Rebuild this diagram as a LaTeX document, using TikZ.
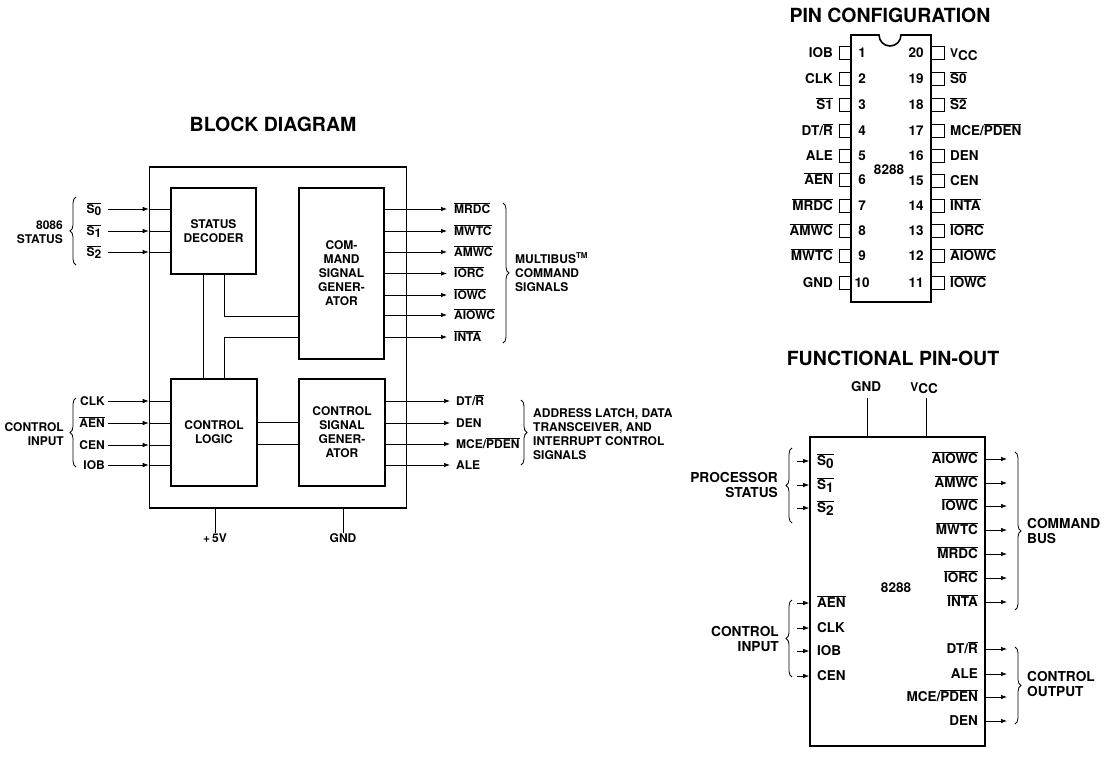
\documentclass[tikz,border=0pt]{standalone}
\usepackage{fontspec}
\setmainfont{TeX Gyre Heros}
\usetikzlibrary{arrows.meta}
\usetikzlibrary{decorations.pathreplacing}
\newcommand{\ovl}[1]{$\overline{\hbox{#1}}$}
\newcommand{\dn}[1]{\raisebox{-0.35ex}{#1}}
\tikzset{
    blockbox/.style={draw,line width=1.6pt,inner sep=0pt,align=center,font=\fontsize{12}{14}\selectfont\bfseries},
    sig/.style={line width=0.7pt,-{Latex[length=6pt,width=4.5pt]}},
    wire/.style={line width=0.7pt},
    lab/.style={inner sep=0pt,font=\fontsize{12}{14}\selectfont\bfseries},
    pinlab/.style={inner sep=0pt,font=\fontsize{13.5}{16}\selectfont\bfseries},
    note/.style={inner sep=0pt,align=left,font=\fontsize{12}{14}\selectfont\bfseries},
    bignote/.style={inner sep=0pt,font=\fontsize{13.7}{15.5}\selectfont\bfseries},
    ttl/.style={inner sep=0pt,font=\fontsize{19.5}{22}\selectfont\bfseries},
    brc/.style={decorate,decoration={brace,amplitude=6pt},line width=0.8pt},
}
\begin{document}
\begin{tikzpicture}[x=1pt,y=-1pt]
    \useasboundingbox (0,0) rectangle (1108,771);
    \node[ttl] (blocktitle) at (273,124) {BLOCK DIAGRAM};
    \node[ttl] (pintitle) at (890,15) {PIN CONFIGURATION};
    \node[ttl] (functitle) at (893,358) {FUNCTIONAL PIN-OUT};

    \node[blockbox,minimum width=257pt,minimum height=341pt] (big) at (278,337.5) {};
    \node[blockbox,fill=white,minimum width=85pt,minimum height=86pt] (dec) at (213.5,231) {STATUS\\DECODER};
    \node[blockbox,fill=white,minimum width=85pt,minimum height=171pt] (cmd) at (341.5,273.5) {COM-\\MAND\\SIGNAL\\GENER-\\ATOR};
    \node[blockbox,fill=white,minimum width=86pt,minimum height=107pt] (ctl) at (214,432.5) {CONTROL\\LOGIC};
    \node[blockbox,fill=white,minimum width=86pt,minimum height=107pt] (gen) at (342,432.5) {CONTROL\\SIGNAL\\GENER-\\ATOR};

    \coordinate (u1) at (203,274);
    \coordinate (u2) at (224,274);
    \coordinate (u3) at (224,379);
    \draw[wire] (u1) -- (u1 |- ctl.north);
    \draw[wire] (u2) -- (224,316) -- (224,316 -| cmd.west);
    \draw[wire] (u3) -- (224,337) -- (224,337 -| cmd.west);

    \foreach \n/\y/\lab in {s0/209/\ovl{S\dn{0}}, s1/231/\ovl{S\dn{1}}, s2/252/\ovl{S\dn{2}}} {
            \node[lab,anchor=base] (lb\n) at (94,\y+4) {\lab};
            \coordinate (t\n) at (108,\y);
            \draw[sig] (t\n) -- (t\n -| big.west);
            \draw[wire] (t\n -| big.west) -- (t\n -| dec.west);
        }
    \foreach \n/\y/\lab in {clk/401/CLK, aen/423/\ovl{AEN}, cen/445/CEN, iob/465/IOB} {
            \node[lab,anchor=base east] (lb\n) at (105,\y+4) {\lab};
            \coordinate (t\n) at (108,\y);
            \draw[sig] (t\n) -- (t\n -| big.west);
            \draw[wire] (t\n -| big.west) -- (t\n -| ctl.west);
        }
    \foreach \n/\y/\lab in {mrdc/209/MRDC, mwtc/231/MWTC, amwc/252/AMWC, iorc/273.5/IORC, iowc/295/IOWC, aiowc/315/AIOWC, inta/337/INTA} {
            \node[lab,anchor=base west] (lb\n) at (454,\y+4) {\ovl{\lab}};
            \coordinate (t\n) at (447,\y);
            \draw[sig] (t\n -| cmd.east) -- (t\n);
        }
    \foreach \n/\y/\lab in {dtr/401/{DT/\ovl{R}}, den/423/DEN, mce/444/{MCE/\ovl{PDEN}}, ale/465/ALE} {
            \node[lab,anchor=base west] (lb\n) at (456,\y+4) {\lab};
            \coordinate (t\n) at (450,\y);
            \draw[sig] (t\n -| gen.east) -- (t\n);
        }
    \foreach \n/\y in {a/422, b/444} {
            \coordinate (m\n) at (280,\y);
            \draw[wire] (m\n -| ctl.east) -- (m\n -| gen.west);
        }

    \draw[brc] (76,265) -- (76,197);
    \draw[brc] (503,203) -- (503,343);
    \draw[brc] (76,467) -- (76,398);
    \draw[brc] (521,400) -- (521,465);
    \node[note,align=right,anchor=east] (st8086) at (63,232) {8086\\STATUS};
    \node[note,anchor=west] (mbus) at (515,272) {MULTIBUS\textsuperscript{TM}\\COMMAND\\SIGNALS};
    \node[note,align=right,anchor=east] (ctlin) at (64,434) {CONTROL\\INPUT};
    \node[note,anchor=west] (addr) at (533,434) {ADDRESS LATCH, DATA\\TRANSCEIVER, AND\\INTERRUPT CONTROL\\SIGNALS};

    \node[lab] (plus5) at (215,538) {+\,5V};
    \node[lab] (gnda) at (343,538) {GND};
    \draw[wire] (plus5.north |- big.south) -- (plus5.north);
    \draw[wire] (gnda.north |- big.south) -- (gnda.north);

    \coordinate (chipa) at (851,35);
    \coordinate (chipb) at (931,302);
    \draw[line width=1.6pt] (chipa) -- (879,35) arc[start angle=180,end angle=0,radius=11] -- (chipb |- chipa) -- (chipb) -- (chipa |- chipb) -- cycle;
    \foreach \n/\y/\lab in {1/53/IOB, 2/79/CLK, 3/105/\ovl{S1}, 4/131/{DT/\ovl{R}}, 5/156/ALE, 6/180/\ovl{AEN}, 7/206/\ovl{MRDC}, 8/231/\ovl{AMWC}, 9/256/\ovl{MWTC}, 10/283/GND} {
            \draw[wire] (851,\y-6.5) -- (839,\y-6.5) -- (839,\y+6.5) -- (851,\y+6.5);
            \node[pinlab,anchor=base east] (pl\n) at (833,\y+4.5) {\lab};
            \node[pinlab,anchor=base] (pn\n) at (862,\y+4) {\n};
        }
    \foreach \n/\y/\lab in {20/53/{{\fontsize{12}{13}\selectfont V}\dn{CC}}, 19/79/\ovl{S0}, 18/105/\ovl{S2}, 17/131/{MCE/\ovl{PDEN}}, 16/156/DEN, 15/181/CEN, 14/206/\ovl{INTA}, 13/231/\ovl{IORC}, 12/256/\ovl{AIOWC}, 11/283/\ovl{IOWC}} {
            \draw[wire] (931,\y-6.5) -- (944,\y-6.5) -- (944,\y+6.5) -- (931,\y+6.5);
            \node[pinlab,anchor=base west] (pl\n) at (950,\y+4.5) {\lab};
            \node[pinlab,anchor=base] (pn\n) at (916,\y+4) {\n};
        }
    \node[pinlab] (chipname) at (889,170) {8288};

    \node[draw,line width=1.6pt,minimum width=175pt,minimum height=309pt,inner sep=0pt] (func) at (897.5,591.5) {};
    \node[pinlab] (funcname) at (896,588) {8288};
    \node[pinlab] (fgnd) at (866,387) {GND};
    \node[pinlab] (fvcc) at (924,388) {{\fontsize{12}{13}\selectfont V}\dn{CC}};
    \coordinate (fg) at (867,398);
    \coordinate (fv) at (926,398);
    \draw[wire] (fg) -- (fg |- func.north);
    \draw[wire] (fv) -- (fv |- func.north);

    \foreach \n/\y/\lab in {s0/461/\ovl{S\dn{0}}, s1/485/\ovl{S\dn{1}}, s2/508/\ovl{S\dn{2}}, aen/603/\ovl{AEN}, clk/628/CLK, iob/651/IOB, cen/676/CEN} {
            \node[pinlab,anchor=base west] (fl\n) at (817,\y+4.5) {\lab};
            \coordinate (f\n) at (797,\y);
            \draw[sig] (f\n) -- (f\n -| func.west);
        }
    \foreach \n/\y/\lab in {aiowc/459/\ovl{AIOWC}, amwc/483/\ovl{AMWC}, iowc/506/\ovl{IOWC}, mwtc/530/\ovl{MWTC}, mrdc/554/\ovl{MRDC}, iorc/578/\ovl{IORC}, inta/602/\ovl{INTA}, dtr/649/{DT/\ovl{R}}, ale/674/ALE, mce/697/{MCE/\ovl{PDEN}}, den/721/DEN} {
            \node[pinlab,anchor=base east] (fl\n) at (978,\y+4.5) {\lab};
            \coordinate (f\n) at (1007,\y);
            \draw[sig] (f\n -| func.east) -- (f\n);
        }
    \draw[brc] (792,523) -- (792,448);
    \draw[brc] (792,677) -- (792,600);
    \draw[brc] (1015,452) -- (1015,610);
    \draw[brc] (1015,647) -- (1015,724);
    \node[bignote,align=right,anchor=east] (fproc) at (778,485) {PROCESSOR\\STATUS};
    \node[bignote,align=right,anchor=east] (fctlin) at (779,639) {CONTROL\\INPUT};
    \node[bignote,align=left,anchor=west] (fbus) at (1027,531) {COMMAND\\BUS};
    \node[bignote,align=left,anchor=west] (fctlout) at (1027,684) {CONTROL\\OUTPUT};
\end{tikzpicture}
\end{document}
